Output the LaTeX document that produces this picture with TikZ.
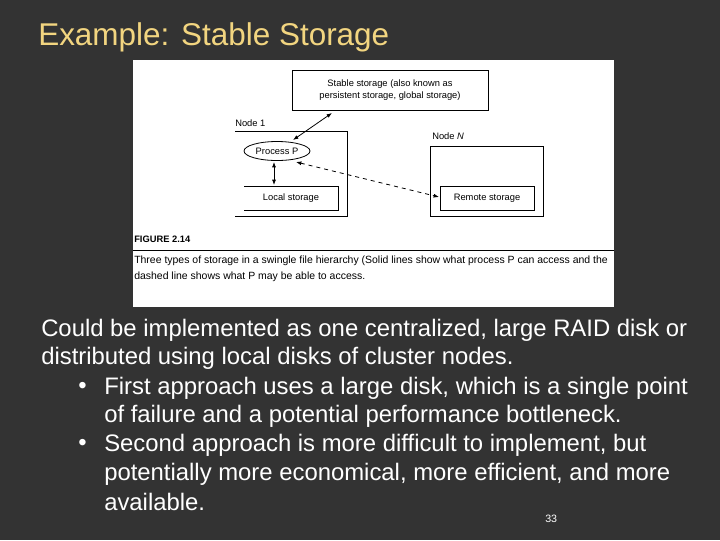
\documentclass[tikz,border=0pt]{standalone}
\usepackage{fontspec}
\setmainfont{Liberation Sans}
\usetikzlibrary{arrows.meta}
\definecolor{bg}{HTML}{333333}
\definecolor{ttl}{HTML}{F2D580}
\begin{document}
\begin{tikzpicture}[x=0.75pt,y=-0.75pt,
  fig/.style={font=\fontsize{7}{8.4}\selectfont,inner sep=0pt},
  body/.style={anchor=west,text=white,font=\fontsize{17.9}{20}\selectfont,inner sep=0pt},
  ln/.style={line width=0.6pt},
  arr/.style={ln,{Latex[length=4pt,width=3pt]}-{Latex[length=4pt,width=3pt]}}]
\fill[bg] (0,0) rectangle (720,540);
\useasboundingbox (0,0) rectangle (720,540);
\node[anchor=west,text=ttl,font=\fontsize{23.6}{26}\selectfont,inner sep=0pt] (title) at (38,37) {Example: Stable Storage};
\fill[white] (133,60) rectangle (614,307);
% stable storage
\draw[ln] (292,70) rectangle (488,110);
\node[fig,align=center] (stable) at (390,90) {Stable storage (also known as\\persistent storage, global storage)};
\coordinate (sa) at (332,113);
% node 1
\draw[ln] (235,131) -- (347,131) -- (347,216) -- (235,216);
\node[fig,anchor=west] (n1) at (235,123) {Node 1};
\draw[ln] (277,151) ellipse (33 and 9.5);
\node[fig] (proc) at (277,151) {Process P};
\coordinate (pa) at (293,140);
\coordinate (pb) at (274,162);
\coordinate (pc) at (296,162);
\draw[ln] (244,186) -- (338,186) -- (338,210) -- (244,210);
\node[fig] (local) at (291,198) {Local storage};
\coordinate (la) at (274,185);
% node N
\draw[ln] (430,146) rectangle (543,216);
\node[fig,anchor=west] (nn) at (432,136) {Node \textit{N}};
\draw[ln] (440,186) rectangle (534,210);
\node[fig] (remote) at (487,198) {Remote storage};
\coordinate (ra) at (439,197);
% connectors
\draw[arr] (sa) -- (pa);
\draw[arr] (pb) -- (la);
\draw[ln,dashed,{Latex[length=4pt,width=3pt]}-{Latex[length=4pt,width=3pt]}] (pc) -- (ra);
% caption
\node[fig,anchor=west,font=\fontsize{7}{8}\bfseries] (figlab) at (134,239) {FIGURE 2.14};
\draw[line width=0.5pt] (133,250) -- (614,250);
\node[fig,anchor=north west,align=left,font=\fontsize{7.85}{12}\selectfont] (cap) at (134,256) {Three types of storage in a swingle file hierarchy (Solid lines show what process P can access and the\\dashed line shows what P may be able to access.};
% body
\node[body] (b1) at (41,330) {Could be implemented as one centralized, large RAID disk or};
\node[body] (b2) at (41,358) {distributed using local disks of cluster nodes.};
\node[body] (b3a) at (78,388) {•};
\node[body] (b3) at (104,388) {First approach uses a large disk, which is a single point};
\node[body] (b4) at (104,416) {of failure and a potential performance bottleneck.};
\node[body] (b5a) at (78,445) {•};
\node[body] (b5) at (104,445) {Second approach is more difficult to implement, but};
\node[body] (b6) at (104,474) {potentially more economical, more efficient, and more};
\node[body] (b7) at (104,502) {available.};
\node[anchor=west,text=white,font=\fontsize{8}{9}\selectfont,inner sep=0pt] (pg) at (545,519) {33};
\end{tikzpicture}
\end{document}
